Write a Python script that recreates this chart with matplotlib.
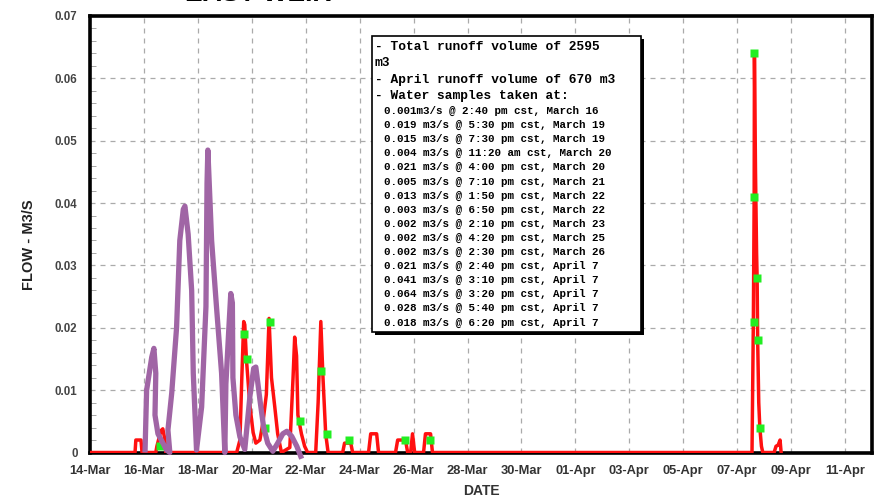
import numpy as np
import pandas as pd
import matplotlib.pyplot as plt
from matplotlib.patches import Rectangle

# days since 14-Mar
red_day = [0.0, 1.67, 1.70, 1.89, 1.93, 2.44, 2.48, 2.63, 2.70, 2.78, 2.81,
           5.44, 5.56, 5.63, 5.70, 5.74, 5.80, 5.93, 6.05, 6.15, 6.30, 6.41, 6.54,
           6.64, 6.73, 6.85, 6.96, 7.10, 7.41, 7.53, 7.59, 7.66, 7.71, 7.84, 7.96,
           8.07, 8.37, 8.46, 8.56, 8.64, 8.74, 8.83, 9.37, 9.44, 9.67, 9.74,
           10.33, 10.41, 10.63, 10.70, 11.33, 11.41, 11.70, 11.78, 11.89, 11.96,
           12.04, 12.37, 12.44, 12.63, 12.70, 24.55, 24.60, 24.63, 24.64, 24.68,
           24.72, 24.74, 24.76, 24.80, 24.84, 24.90, 24.95, 25.37, 25.44, 25.52,
           25.59, 25.63]
red_flow = [0.0, 0.0, 0.002, 0.002, 0.0, 0.0, 0.001, 0.0035, 0.0038, 0.002, 0.0,
            0.0, 0.002, 0.012, 0.021, 0.0205, 0.015, 0.0075, 0.0032, 0.0015, 0.002, 0.0047, 0.0093,
            0.0215, 0.012, 0.0074, 0.003, 0.0, 0.0008, 0.012, 0.0185, 0.0155, 0.006, 0.003, 0.001,
            0.0, 0.0, 0.008, 0.021, 0.012, 0.003, 0.0, 0.0, 0.0015, 0.0015, 0.0,
            0.0, 0.003, 0.003, 0.0, 0.0, 0.002, 0.002, 0.0, 0.0, 0.003,
            0.0, 0.0, 0.003, 0.003, 0.0, 0.0, 0.021, 0.041, 0.064, 0.045,
            0.032, 0.028, 0.018, 0.008, 0.004, 0.001, 0.0, 0.0, 0.001, 0.0012,
            0.002, 0.0]

sample_day = [2.611, 5.729, 5.813, 6.472, 6.667, 7.799, 8.576, 8.785, 9.590,
              11.681, 12.604, 24.611, 24.632, 24.639, 24.736, 24.764, 24.84]
sample_flow = [0.001, 0.019, 0.015, 0.004, 0.021, 0.005, 0.013, 0.003, 0.002,
               0.002, 0.002, 0.021, 0.041, 0.064, 0.028, 0.018, 0.004]

# purple hand drawn overlay
purple_day = [2.04, 2.10, 2.29, 2.37, 2.44, 2.41, 2.52, 2.84, 2.96, 2.89, 3.03,
              3.21, 3.33, 3.46, 3.52, 3.64, 3.77, 3.83, 3.95, 4.14, 4.30, 4.34,
              4.37, 4.39, 4.51, 4.69, 4.88, 5.00, 5.04, 5.15, 5.22, 5.28, 5.30,
              5.41, 5.56, 5.74, 5.93, 6.07, 6.15, 6.30, 6.44, 6.59, 6.78, 6.96,
              7.15, 7.30, 7.48, 7.67, 7.85]
purple_flow = [0.0, 0.010, 0.0153, 0.0167, 0.0127, 0.006, 0.003, 0.0004, 0.0, 0.0036, 0.0095,
               0.020, 0.034, 0.039, 0.0395, 0.035, 0.026, 0.0127, 0.0004, 0.0073, 0.0234, 0.0432,
               0.0485, 0.0465, 0.034, 0.0234, 0.0127, 0.0, 0.011, 0.020, 0.0255, 0.024, 0.012,
               0.006, 0.0025, 0.0005, 0.009, 0.0135, 0.0137, 0.0085, 0.004, 0.0015, 0.0002, 0.0015,
               0.003, 0.0034, 0.0026, 0.001, -0.001]

header_lines = ["- Total runoff volume of 2595", "m3",
                "- April runoff volume of 670 m3", "- Water samples taken at:"]
sample_lines = ["0.001m3/s @ 2:40 pm cst, March 16",
                "0.019 m3/s @ 5:30 pm cst, March 19",
                "0.015 m3/s @ 7:30 pm cst, March 19",
                "0.004 m3/s @ 11:20 am cst, March 20",
                "0.021 m3/s @ 4:00 pm cst, March 20",
                "0.005 m3/s @ 7:10 pm cst, March 21",
                "0.013 m3/s @ 1:50 pm cst, March 22",
                "0.003 m3/s @ 6:50 pm cst, March 22",
                "0.002 m3/s @ 2:10 pm cst, March 23",
                "0.002 m3/s @ 4:20 pm cst, March 25",
                "0.002 m3/s @ 2:30 pm cst, March 26",
                "0.021 m3/s @ 2:40 pm cst, April 7",
                "0.041 m3/s @ 3:10 pm cst, April 7",
                "0.064 m3/s @ 3:20 pm cst, April 7",
                "0.028 m3/s @ 5:40 pm cst, April 7",
                "0.018 m3/s @ 6:20 pm cst, April 7"]

tick_dates = pd.date_range('2003-03-14', periods=15, freq='2D')
tick_labels = [d.strftime('%d-%b') for d in tick_dates]
y_labels = ['0', '0.01', '0.02', '0.03', '0.04', '0.05', '0.06', '0.07']

W, H = 877, 499
def fx(x):
    return x / W
def fy(y):
    return 1 - y / H

plt.rcParams['font.family'] = ['Liberation Sans', 'DejaVu Sans']
fig = plt.figure(figsize=(W / 100, H / 100), dpi=100)
ax = fig.add_axes([fx(90), fy(452.5), fx(872) - fx(90), fy(16) - fy(452.5)])

ax.plot(red_day, red_flow, color='#ff1010', lw=2.5, zorder=3)
ax.plot(sample_day, sample_flow, 's', color='#22ee22', ms=5.5, mec='none', zorder=4)
ax.plot(purple_day, purple_flow, color='#a065a5', lw=3.8, zorder=5,
        clip_on=False, solid_joinstyle='round', solid_capstyle='butt')

ax.set_xlim(0, 29)
ax.set_ylim(0, 0.07)
ax.set_xticks(np.arange(0, 29, 2))
ax.set_xticklabels(tick_labels, fontsize=9.3, fontweight='bold', color='#333333')
ax.set_yticks(np.arange(0, 0.071, 0.01))
ax.set_yticklabels(y_labels, fontsize=8.3, fontweight='bold', color='#444444')
ax.set_yticks(np.arange(0, 0.071, 0.002), minor=True)
ax.tick_params(axis='both', which='major', length=0, pad=9)
ax.tick_params(axis='y', which='minor', direction='in', length=4, color='#999999')
ax.grid(True, which='major', color='#aaaaaa', linestyle=(0, (4, 4)), lw=0.9)
for s in ax.spines.values():
    s.set_linewidth(2.6)
    s.set_color('black')

# title sits mostly above the top edge, as in the source image
fig.text(fx(258), fy(1), 'EAST WEIR', ha='center', va='baseline',
         fontsize=19, fontweight='bold')
fig.text(fx(29), fy(245), 'FLOW - M3/S', rotation=90, ha='center', va='center',
         fontsize=10.5, fontweight='bold', color='#222222')
fig.text(fx(481), fy(491), 'DATE', ha='center', va='center',
         fontsize=10, fontweight='bold', color='#333333')

# text box with shadow
bx0, by0, bx1, by1 = 372, 36, 641, 332
fig.patches.append(Rectangle((fx(bx0 + 3), fy(by1 + 3)), fx(bx1 - bx0), fy(by0) - fy(by1),
                             transform=fig.transFigure, facecolor='black', edgecolor='none', zorder=6))
fig.patches.append(Rectangle((fx(bx0), fy(by1)), fx(bx1 - bx0), fy(by0) - fy(by1),
                             transform=fig.transFigure, facecolor='white', edgecolor='black',
                             lw=1.2, zorder=7))

head_y = [47, 63, 80, 96]
for txt, yy in zip(header_lines, head_y):
    fig.text(fx(375), fy(yy), txt, ha='left', va='center', fontsize=9.3,
             family='Liberation Mono', fontweight='bold', zorder=8)
for i, txt in enumerate(sample_lines):
    fig.text(fx(384), fy(111 + 14.1 * i), txt, ha='left', va='center', fontsize=7.8,
             family='Liberation Mono', fontweight='bold', zorder=8)

fig.savefig('out.png', dpi=100)
